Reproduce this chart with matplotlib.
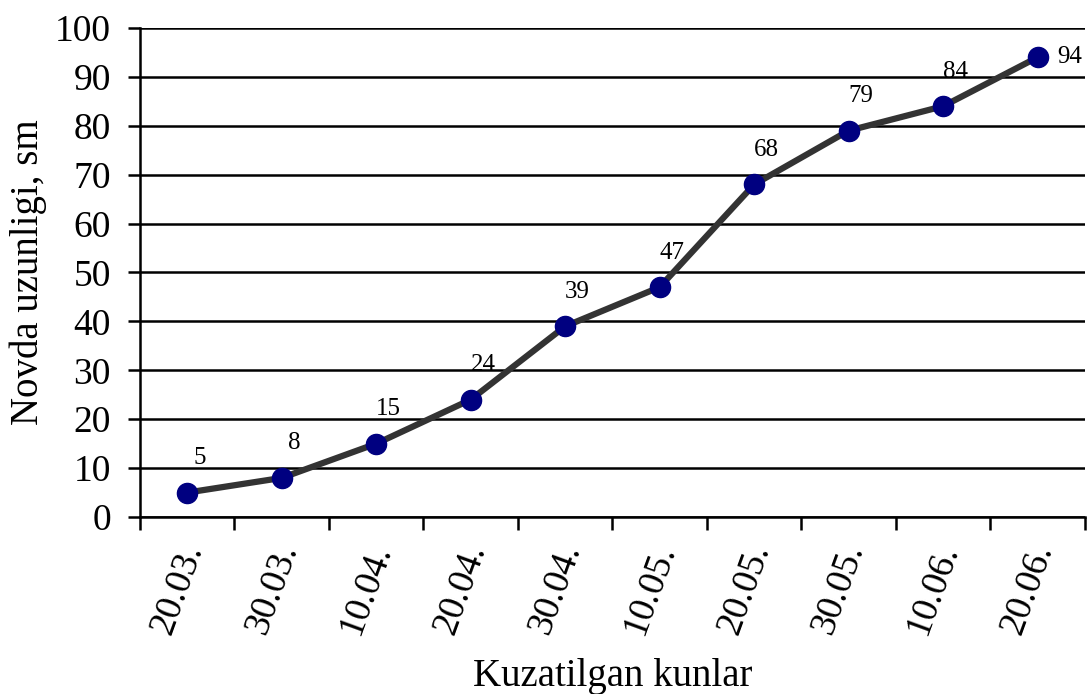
import matplotlib
matplotlib.use('Agg')
import matplotlib.pyplot as plt
import matplotlib.transforms as mtransforms
import numpy as np

plt.rcParams['font.family'] = ['Liberation Serif', 'DejaVu Serif']

# data
dates = ['20.03.', '30.03.', '10.04.', '20.04.', '30.04.',
         '10.05.', '20.05.', '30.05.', '10.06.', '20.06.']
lengths = [5, 8, 15, 24, 39, 47, 68, 79, 84, 94]

fig = plt.figure(figsize=(10.87, 6.94), dpi=100)
ax = fig.add_axes([0.1288, 0.255, 0.8692, 0.7047])

x = np.arange(len(dates))
ax.plot(x, lengths, color='#333333', lw=4.5, marker='o', ms=14.5,
        markerfacecolor='#000080', markeredgecolor='#000080', zorder=3)

# value labels
for i, v in enumerate(lengths):
    if i == len(lengths) - 1:
        ax.annotate(str(v), (x[i], v), xytext=(14, 0), textcoords='offset points',
                    ha='left', va='center', fontsize=18)
    else:
        ax.annotate(str(v), (x[i], v), xytext=(9, 17), textcoords='offset points',
                    ha='center', va='bottom', fontsize=18)

ax.set_xlim(-0.5, len(dates) - 0.5)
ax.set_ylim(0, 100)
ax.set_yticks(range(0, 101, 10))
ax.tick_params(axis='y', labelsize=27, length=9, width=1.8, direction='out', pad=12)

# ticks between categories, labels at centres
ax.set_xticks(np.arange(-0.5, len(dates), 1.0))
ax.set_xticklabels([])
ax.set_xticks(x, minor=True)
ax.set_xticklabels(dates, minor=True, rotation=70, ha='right', va='top',
                   rotation_mode='anchor', fontsize=27)
ax.tick_params(axis='x', which='major', length=9, width=1.8, direction='out')
ax.tick_params(axis='x', which='minor', length=0, pad=16)
shift = mtransforms.ScaledTranslation(-10 / 100, 0, fig.dpi_scale_trans)
for lbl in ax.get_xticklabels(minor=True):
    lbl.set_transform(lbl.get_transform() + shift)

ax.yaxis.grid(True, color='black', lw=1.8)
ax.set_axisbelow(True)
for s in ['top', 'right']:
    ax.spines[s].set_visible(False)
for s in ['left', 'bottom']:
    ax.spines[s].set_linewidth(1.8)

ax.set_ylabel('Novda uzunligi, sm', fontsize=28, labelpad=6)
ax.set_xlabel('Kuzatilgan kunlar', fontsize=28, labelpad=14)

fig.savefig('out.png', dpi=100)
